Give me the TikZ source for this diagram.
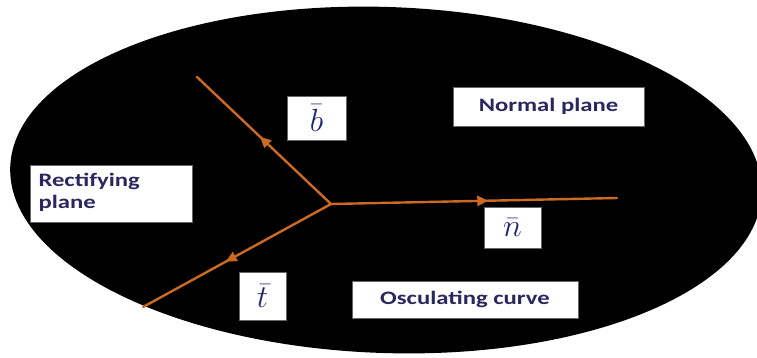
\RequirePackage{fix-cm}
\documentclass[tikz,border=0pt]{standalone}
\usepackage{fontspec}
\usepackage{graphicx}
\setmainfont{Carlito}
\usetikzlibrary{decorations.markings,arrows.meta}
\definecolor{vecorange}{RGB}{205,105,35}
\definecolor{labelink}{RGB}{40,40,95}
\definecolor{mathink}{RGB}{30,40,110}
\tikzset{
  vec/.style={draw=vecorange, line width=2.4pt, line cap=round,
    postaction={decorate},
    decoration={markings, mark=at position #1 with {\arrow{Triangle[length=11pt,width=10pt,fill=vecorange]}}}},
  wbox/.style={draw=black!60, line width=0.6pt, fill=white, inner sep=0pt},
  wordbox/.style={wbox, text=labelink, font=\bfseries\fontsize{19}{22}\selectfont},
  mathbox/.style={wbox, text=mathink, font=\fontsize{32}{34}\selectfont}
}
\newcommand{\wide}[1]{\scalebox{1.3}[1]{#1}}
\begin{document}
\begin{tikzpicture}[x=1pt,y=-1pt]
\useasboundingbox (0,0) rectangle (757,357);
\fill[black, rotate around={-2:(386,180)}] (386,180) ellipse [x radius=376, y radius=173];
\coordinate (O) at (331,204);
\coordinate (B) at (197,77);
\coordinate (N) at (617,198);
\coordinate (T) at (143,307);
\draw[vec=0.53] (O) -- (B);
\draw[vec=0.55] (O) -- (N);
\draw[vec=0.56] (O) -- (T);
\node[mathbox, minimum width=59pt, minimum height=44pt] (bbox) at (316.5,118) {$\bar{b}$};
\node[mathbox, minimum width=57pt, minimum height=41pt] (nbox) at (512.5,227.5) {$\bar{n}$};
\node[mathbox, minimum width=47pt, minimum height=48pt] (tbox) at (262.5,296) {$\bar{t}$};
\node[wordbox, minimum width=191pt, minimum height=39pt] (normal) at (548.5,106.5) {\wide{Normal plane}};
\node[wordbox, minimum width=226pt, minimum height=37pt] (osc) at (465,299.5) {\wide{Osculating curve}};
\node[wordbox, minimum width=162pt, minimum height=57pt, text width=145pt, align=left] (rect) at (111,193.5) {\wide{\begin{tabular}{@{}l@{}}Rectifying\\plane\end{tabular}}};
\end{tikzpicture}
\end{document}
